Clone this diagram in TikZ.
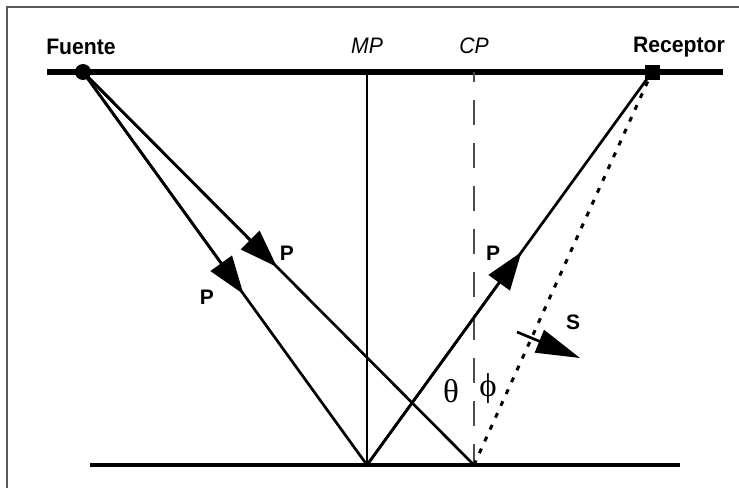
\documentclass[tikz,border=0pt]{standalone}
\usepackage{fontspec}
\setmainfont{Liberation Sans}
\newfontfamily\greekfont{Liberation Serif}
\usepackage{graphicx}
\usepackage{tikz}
\usetikzlibrary{arrows.meta,calc}

\newcommand{\widetext}[1]{\scalebox{1.06}[1.12]{#1}}

\begin{document}
\begin{tikzpicture}[x=1pt, y=-1pt,
  lbl/.style={font=\fontsize{20}{20}\selectfont\bfseries, inner sep=0pt},
  plbl/.style={font=\fontsize{21}{21}\selectfont\bfseries, inner sep=0pt},
  glbl/.style={font=\fontsize{33}{33}\selectfont\greekfont, inner sep=0pt},
  ray/.style={line width=2.7pt},
  bighead/.style={-{Triangle[length=38pt,width=26pt]}},
  surface/.style={line width=5.5pt},
  reflector/.style={line width=4pt}]

\useasboundingbox (0,0) rectangle (739,488);
% frame (cut off at right and bottom)
\draw[gray!70!black, line width=1.2pt] (7,488) -- (7,7) -- (739,7);

% surface and reflector
\coordinate (tl) at (47,72);
\coordinate (tr) at (723,72);
\coordinate (bl) at (90,465);
\coordinate (br) at (680,465);
\draw[surface] (tl) -- (tr);
\draw[reflector] (bl) -- (br);

% reflection points
\coordinate (mp) at (367,465);
\coordinate (cp) at (474,465);
\coordinate (mptop) at (367,72);
\coordinate (cptop) at (474,72);
\draw[line width=1.1pt] (mptop) -- (mp);
\draw[gray!60!black, line width=1.2pt, dash pattern=on 25pt off 18pt, dash phase=15pt] (cptop) -- (cp);

% source and receiver
\node[circle, fill=black, minimum size=16pt, inner sep=0pt] (src) at (83,72) {};
\node[rectangle, fill=black, minimum size=15pt, inner sep=0pt] (rcv) at (652,72) {};

% rays
\draw[ray] (src.center) -- (mp) -- (rcv.center);
\draw[ray] (src.center) -- (cp);
\draw[line width=3pt, dash pattern=on 5pt off 8pt] (cp) -- (rcv.center);

% arrowheads
\draw[ray, bighead] (src.center) -- ($(src.center)!0.565!(mp)$);
\draw[ray, bighead] (src.center) -- ($(src.center)!0.496!(cp)$);
\draw[ray, bighead] (mp) -- ($(mp)!0.542!(rcv.center)$);
\coordinate (s1) at (517,332);
\coordinate (s2) at (580,358);
\draw[ray, -{Triangle[length=44pt,width=24pt]}] (s1) -- (s2);

% labels
\node[lbl] (fuente) at (81,47) {\widetext{Fuente}};
\node[lbl] (receptor) at (679,47) {\widetext{Receptor}};
\node[lbl, font=\fontsize{20}{20}\selectfont\itshape] (mplbl) at (367,46) {\widetext{MP}};
\node[lbl, font=\fontsize{20}{20}\selectfont\itshape] (cplbl) at (474,46) {\widetext{CP}};
\node[plbl] (p1) at (207,297) {P};
\node[plbl] (p2) at (287,253) {P};
\node[plbl] (p3) at (493,253) {P};
\node[plbl] (slbl) at (573,322) {S};
\node[glbl] (theta) at (451,391) {θ};
\node[glbl] (phi) at (488,389) {ϕ};
\end{tikzpicture}
\end{document}
